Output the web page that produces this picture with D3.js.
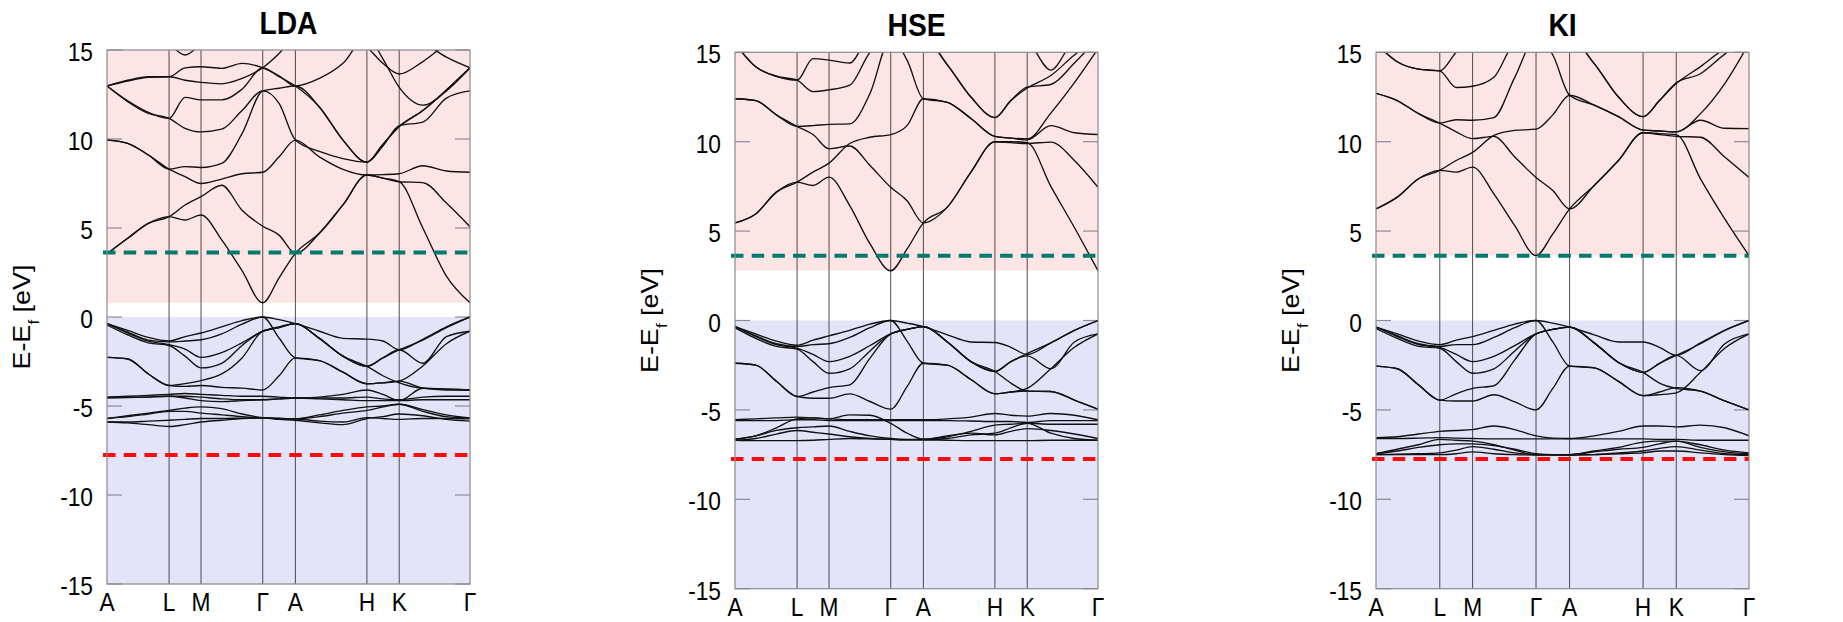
<!DOCTYPE html>
<html>
<head>
<meta charset="utf-8">
<script src="https://cdn.jsdelivr.net/npm/d3@7"></script>
<style>
  body { margin: 0; background: #fff; }
  text { font-family: "Liberation Sans", Arial, sans-serif; fill: #000; }
</style>
</head>
<body>
<svg id="chart" width="1843" height="622"></svg>
<script>
// k-path (fractional distance along the path)
const kLabels = ["A", "L", "M", "Γ", "A", "H", "K", "Γ"];
const kTicks = [0, 0.171, 0.259, 0.429, 0.519, 0.716, 0.805, 1];
const kGrid = [0, 0.057, 0.114, 0.171, 0.215, 0.259, 0.316, 0.372, 0.429, 0.474,
               0.519, 0.585, 0.65, 0.716, 0.76, 0.805, 0.87, 0.935, 1];
const yTicks = [15, 10, 5, 0, -5, -10, -15];
const titles = ["LDA", "HSE", "KI"];
const conductionBottom = [0.8, 2.8, 3.63];   // lowest edge of the pink band
const greenLevel = 3.62;
const redLevel = -7.75;

// band energies (eV) at kGrid
const ldaBands = [
  [3.55, 4.42, 5.26, 5.64, 5.45, 5.73, 4.33, 2.6, 0.8, 2.2, 3.58, 4.7, 6.3, 7.98, 7.8, 7.6, 5.0, 2.3, 0.8],
  [3.55, 4.42, 5.26, 5.64, 6.29, 6.76, 7.4, 6.0, 5.1, 4.6, 3.58, 4.7, 6.3, 7.98, 7.8, 7.6, 7.55, 6.4, 5.07],
  [9.94, 9.76, 9.1, 8.31, 7.88, 7.5, 7.75, 8.05, 8.13, 9.0, 9.94, 9.0, 8.3, 7.98, 8.0, 8.05, 8.5, 8.2, 8.13],
  [9.94, 9.76, 9.1, 8.31, 8.45, 8.4, 8.63, 10.3, 12.7, 12.85, 12.98, 11.8, 9.94, 8.7, 9.7, 10.7, 11.6, 12.75, 14.0],
  [12.98, 12.1, 11.44, 11.16, 10.6, 10.4, 10.55, 11.6, 12.7, 12.0, 9.94, 9.3, 8.9, 8.7, 9.6, 10.75, 10.95, 12.3, 12.7],
  [12.98, 12.15, 11.5, 11.16, 12.34, 12.2, 12.2, 12.8, 14.0, 13.5, 12.98, 11.8, 9.94, 8.7, 9.7, 10.7, 11.6, 12.75, 14.0],
  [12.98, 13.26, 13.46, 13.5, 13.3, 13.18, 13.1, 13.4, 14.0, 14.8, 15.8, 15.8, 15.8, 15.15, 14.25, 13.65, 14.35, 15.3, 15.8],
  [12.98, 13.3, 13.5, 13.5, 14.0, 14.06, 13.97, 14.25, 14.0, 13.55, 12.98, 13.4, 14.25, 15.8, 14.5, 12.9, 11.9, 12.7, 14.0],
  [15.8, 15.8, 15.6, 15.3, 14.72, 15.3, 15.8, 15.8, 15.8, 15.8, 15.8, 15.8, 15.8, 15.8, 15.8, 15.8, 15.4, 14.6, 14.0],
  // valence
  [-0.37, -0.75, -1.15, -1.35, -1.1, -0.9, -0.55, -0.2, 0.0, -0.15, -0.37, -0.8, -1.2, -1.24, -1.35, -1.84, -1.25, -0.55, 0.0],
  [-0.37, -0.85, -1.3, -1.4, -1.35, -1.28, -0.95, -0.4, 0.0, -1.18, -2.3, -2.45, -3.1, -3.75, -3.7, -3.6, -2.75, -1.5, -0.8],
  [-0.37, -0.9, -1.35, -1.55, -1.8, -2.27, -2.0, -1.45, -0.8, -0.55, -0.37, -1.2, -2.2, -2.77, -2.3, -1.84, -1.3, -0.6, 0.0],
  [-0.45, -1.0, -1.45, -1.6, -2.2, -2.86, -2.6, -1.6, -0.8, -0.6, -0.37, -1.2, -2.2, -2.77, -3.3, -3.7, -4.0, -4.05, -4.1],
  [-2.27, -2.36, -3.2, -3.85, -3.74, -3.57, -3.2, -2.3, -0.8, -0.6, -0.37, -1.2, -2.2, -2.77, -2.3, -1.84, -2.6, -1.1, -0.8],
  [-2.27, -2.36, -3.2, -3.85, -3.9, -3.85, -3.95, -4.0, -4.1, -3.3, -2.3, -2.45, -3.1, -3.75, -3.7, -3.6, -4.0, -4.1, -4.1],
  [-4.5, -4.45, -4.4, -4.35, -4.3, -4.35, -4.4, -4.45, -4.45, -4.5, -4.55, -4.5, -4.35, -4.1, -4.35, -4.7, -4.0, -4.05, -4.1],
  [-4.5, -4.5, -4.5, -4.45, -4.45, -4.5, -4.6, -4.65, -4.65, -4.6, -4.55, -4.55, -4.55, -4.5, -4.6, -4.65, -4.5, -4.45, -4.45],
  [-4.55, -4.52, -4.5, -4.45, -4.55, -4.7, -4.75, -4.7, -4.65, -4.6, -4.55, -4.6, -4.65, -4.7, -4.7, -4.7, -4.65, -4.65, -4.65],
  [-5.7, -5.55, -5.4, -5.25, -5.12, -5.05, -5.15, -5.45, -5.65, -5.7, -5.72, -5.5, -5.25, -5.05, -5.0, -4.9, -5.3, -5.6, -5.67],
  [-5.7, -5.6, -5.45, -5.3, -5.3, -5.4, -5.5, -5.6, -5.67, -5.7, -5.72, -5.85, -5.9, -5.65, -5.7, -5.75, -5.7, -5.7, -5.72],
  [-5.9, -5.95, -6.05, -6.15, -6.05, -5.9, -5.8, -5.7, -5.67, -5.75, -5.8, -5.95, -6.05, -5.7, -5.6, -5.45, -5.55, -5.75, -5.85],
  [-5.9, -5.9, -5.85, -5.8, -5.75, -5.7, -5.7, -5.68, -5.67, -5.7, -5.72, -5.6, -5.4, -5.25, -5.05, -4.9, -5.2, -5.5, -5.67]
];

const hseBands = [
  [5.46, 5.96, 7.18, 7.74, 7.55, 8.02, 6.43, 4.28, 2.78, 4.0, 5.46, 6.34, 8.3, 10.0, 10.0, 9.95, 7.5, 5.2, 2.78],
  [5.46, 5.96, 7.18, 7.74, 8.3, 8.8, 9.9, 10.25, 10.4, 10.9, 12.4, 12.2, 11.3, 10.3, 10.2, 10.1, 10.9, 10.5, 10.4],
  [12.4, 12.3, 11.5, 10.86, 10.4, 9.6, 9.76, 8.67, 7.45, 6.7, 5.46, 6.34, 8.3, 10.0, 9.95, 9.9, 9.98, 8.95, 7.45],
  [12.4, 12.3, 11.5, 10.86, 10.9, 10.97, 11.0, 12.7, 15.8, 14.56, 12.4, 12.2, 11.3, 10.3, 10.2, 10.15, 11.6, 13.3, 15.2],
  [15.5, 14.19, 13.66, 13.44, 12.8, 12.9, 13.16, 15.0, 15.8, 15.8, 15.8, 14.3, 12.5, 11.35, 12.3, 13.0, 13.7, 14.85, 15.8],
  [15.5, 14.19, 13.66, 13.44, 14.65, 14.56, 14.4, 15.8, 15.8, 15.8, 15.8, 14.3, 12.5, 11.35, 12.3, 13.05, 13.2, 14.4, 15.8],
  [15.8, 15.8, 15.8, 15.8, 15.8, 15.8, 15.8, 15.8, 15.8, 15.8, 15.8, 15.8, 15.8, 15.8, 15.8, 15.6, 14.0, 15.6, 15.8],
  // valence
  [-0.34, -0.75, -1.15, -1.38, -1.1, -0.86, -0.55, -0.2, 0.0, -0.15, -0.34, -0.8, -1.2, -1.23, -1.5, -1.9, -1.25, -0.55, 0.0],
  [-0.34, -0.85, -1.3, -1.45, -1.35, -1.3, -0.95, -0.4, 0.0, -1.15, -2.39, -2.5, -3.3, -4.1, -4.0, -3.8, -2.7, -1.5, -0.75],
  [-0.34, -0.9, -1.35, -1.55, -1.9, -2.3, -2.0, -1.4, -0.75, -0.5, -0.34, -1.2, -2.3, -2.85, -2.3, -1.85, -1.25, -0.55, 0.0],
  [-0.4, -1.0, -1.45, -1.6, -2.3, -2.95, -2.7, -1.7, -0.75, -0.5, -0.34, -1.2, -2.3, -2.85, -3.5, -3.95, -3.97, -4.45, -4.96],
  [-2.39, -2.5, -3.4, -4.25, -4.0, -3.75, -3.6, -2.1, -0.75, -0.5, -0.34, -1.2, -2.3, -2.85, -2.3, -1.98, -2.7, -1.2, -0.75],
  [-2.39, -2.5, -3.4, -4.25, -4.35, -4.35, -4.1, -4.53, -4.96, -3.7, -2.39, -2.5, -3.3, -4.1, -4.0, -3.95, -3.97, -4.45, -4.96],
  [-5.55, -5.5, -5.45, -5.4, -5.45, -5.5, -5.55, -5.55, -5.55, -5.55, -5.55, -5.5, -5.4, -5.2, -5.3, -5.35, -5.2, -5.3, -5.55],
  [-5.6, -5.6, -5.6, -5.55, -5.55, -5.6, -5.6, -5.6, -5.6, -5.6, -5.6, -5.6, -5.62, -5.65, -5.65, -5.7, -5.6, -5.6, -5.6],
  [-6.64, -6.45, -6.15, -6.0, -5.95, -5.9, -6.2, -6.45, -6.6, -6.65, -6.64, -6.5, -6.2, -5.85, -5.8, -5.75, -5.8, -5.8, -5.8],
  [-6.64, -6.45, -6.0, -5.5, -5.45, -5.5, -5.28, -5.3, -5.75, -6.3, -6.64, -6.45, -6.3, -6.4, -6.2, -6.05, -6.15, -6.35, -6.6],
  [-6.7, -6.72, -6.72, -6.72, -6.7, -6.65, -6.6, -6.62, -6.65, -6.68, -6.68, -6.7, -6.72, -6.72, -6.72, -6.72, -6.7, -6.7, -6.7],
  [-6.7, -6.6, -6.35, -6.15, -6.25, -6.35, -6.5, -6.6, -6.65, -6.68, -6.68, -6.6, -6.4, -6.3, -6.0, -5.75, -6.3, -6.6, -6.7]
];

const kiBands = [
  [6.24, 6.9, 7.93, 8.4, 8.3, 8.58, 7.08, 5.3, 3.63, 4.84, 6.24, 7.55, 8.95, 10.5, 10.45, 10.4, 7.92, 5.68, 3.63],
  [6.24, 6.9, 7.93, 8.4, 8.95, 9.4, 10.35, 10.63, 10.7, 11.5, 12.6, 12.04, 11.4, 10.65, 10.6, 10.55, 11.2, 10.75, 10.73],
  [12.7, 12.3, 11.57, 11.04, 10.55, 10.17, 10.3, 9.15, 8.0, 7.27, 6.24, 7.55, 8.95, 10.5, 10.4, 10.3, 10.25, 9.14, 8.0],
  [12.7, 12.3, 11.57, 11.04, 11.23, 11.2, 11.35, 13.6, 15.8, 14.85, 12.6, 12.04, 11.4, 10.65, 10.6, 10.55, 11.57, 13.25, 15.5],
  [15.5, 14.47, 14.06, 13.96, 13.03, 13.1, 13.6, 15.5, 15.8, 15.8, 15.8, 14.37, 12.5, 11.4, 12.3, 13.25, 14.2, 15.2, 15.8],
  [15.5, 14.47, 14.06, 13.96, 15.0, 15.8, 15.8, 15.8, 15.8, 15.8, 15.8, 14.37, 12.5, 11.4, 12.3, 13.3, 13.8, 14.9, 15.8],
  // valence
  [-0.37, -0.75, -1.15, -1.35, -1.1, -0.9, -0.55, -0.2, 0.0, -0.15, -0.37, -0.8, -1.2, -1.2, -1.5, -1.95, -1.25, -0.55, 0.0],
  [-0.37, -0.85, -1.3, -1.45, -1.35, -1.35, -0.95, -0.4, 0.0, -1.2, -2.55, -2.65, -3.4, -4.2, -4.15, -4.05, -2.9, -1.55, -0.75],
  [-0.37, -0.9, -1.35, -1.5, -1.9, -2.3, -2.0, -1.4, -0.75, -0.5, -0.37, -1.25, -2.35, -2.9, -2.4, -1.95, -1.3, -0.55, 0.0],
  [-0.45, -1.0, -1.45, -1.55, -2.3, -2.95, -2.7, -1.7, -0.75, -0.5, -0.37, -1.25, -2.35, -2.9, -3.5, -3.8, -3.95, -4.5, -5.0],
  [-2.55, -2.7, -3.6, -4.45, -4.1, -3.8, -3.65, -2.2, -0.75, -0.5, -0.37, -1.25, -2.35, -2.9, -2.4, -1.95, -2.8, -1.3, -0.75],
  [-2.55, -2.7, -3.6, -4.45, -4.5, -4.5, -4.15, -4.55, -5.0, -3.8, -2.55, -2.65, -3.4, -4.2, -4.0, -3.75, -3.95, -4.5, -5.0],
  [-6.55, -6.5, -6.35, -6.2, -6.15, -6.1, -5.9, -6.1, -6.45, -6.58, -6.6, -6.45, -6.2, -5.9, -5.9, -5.95, -5.85, -6.0, -6.45],
  [-6.6, -6.6, -6.58, -6.55, -6.58, -6.6, -6.62, -6.62, -6.62, -6.62, -6.62, -6.62, -6.62, -6.62, -6.65, -6.65, -6.7, -6.7, -6.7],
  [-7.45, -7.2, -6.95, -6.65, -6.7, -6.75, -6.95, -7.25, -7.5, -7.5, -7.5, -7.3, -7.1, -6.8, -6.75, -6.75, -7.1, -7.35, -7.45],
  [-7.45, -7.3, -7.1, -6.95, -6.9, -6.9, -7.0, -7.2, -7.45, -7.5, -7.5, -7.35, -7.2, -7.1, -6.9, -6.75, -6.95, -7.25, -7.4],
  [-7.5, -7.48, -7.45, -7.4, -7.25, -7.05, -7.2, -7.4, -7.5, -7.5, -7.52, -7.5, -7.4, -7.3, -7.15, -7.05, -7.25, -7.45, -7.5],
  [-7.5, -7.5, -7.5, -7.5, -7.45, -7.35, -7.45, -7.5, -7.52, -7.52, -7.52, -7.5, -7.45, -7.4, -7.3, -7.3, -7.4, -7.5, -7.55]
];

const allBands = [ldaBands, hseBands, kiBands];

const PINK = "#fde4e5";
const BLUE = "#e3e3fa";
const GREEN = "#007a6c";
const RED = "#ff0a0a";
const SQUEEZE = 0.91;   // the original figure text is slightly narrowed

const panels = [
  { x0: 107, x1: 470, y0: 50, y1: 584 },
  { x0: 735, x1: 1098, y0: 52.3, y1: 588.7 },
  { x0: 1376, x1: 1749, y0: 52.3, y1: 588.7 }
];

const svg = d3.select("#chart");

function squeezedText(g, x, y, str, size, weight, anchor) {
  return g.append("text")
    .attr("transform", `translate(${x},${y}) scale(${SQUEEZE},1)`)
    .attr("text-anchor", anchor)
    .style("font-size", size + "px")
    .style("font-weight", weight)
    .text(str);
}

panels.forEach((p, i) => {
  const x = d3.scaleLinear().domain([0, 1]).range([p.x0, p.x1]);
  const y = d3.scaleLinear().domain([-15, 15]).range([p.y1, p.y0]);
  const g = svg.append("g");

  g.append("clipPath").attr("id", "clip" + i)
    .append("rect")
    .attr("x", p.x0).attr("y", p.y0)
    .attr("width", p.x1 - p.x0).attr("height", p.y1 - p.y0);

  // shaded regions
  g.append("rect")
    .attr("x", x(0)).attr("width", x(1) - x(0))
    .attr("y", y(15)).attr("height", y(conductionBottom[i]) - y(15))
    .attr("fill", PINK);
  g.append("rect")
    .attr("x", x(0)).attr("width", x(1) - x(0))
    .attr("y", y(0)).attr("height", y(-15) - y(0))
    .attr("fill", BLUE);

  // high-symmetry lines
  g.selectAll(".kline").data(kTicks.slice(1, -1)).join("line")
    .attr("x1", d => x(d)).attr("x2", d => x(d))
    .attr("y1", y(15)).attr("y2", y(-15))
    .attr("stroke", "#3a3a3a").attr("stroke-width", 0.9);

  // y ticks both sides
  yTicks.forEach(t => {
    g.append("line").attr("x1", x(0)).attr("x2", x(0) + 15)
      .attr("y1", y(t)).attr("y2", y(t))
      .attr("stroke", "#8a8a9a").attr("stroke-width", 1.2);
    g.append("line").attr("x1", x(1) - 15).attr("x2", x(1))
      .attr("y1", y(t)).attr("y2", y(t))
      .attr("stroke", "#8a8a9a").attr("stroke-width", 1.2);
    squeezedText(g, x(0) - 14, y(t) + 11, String(t), 25, "normal", "end");
  });

  // bands
  const line = d3.line()
    .x((d, j) => x(kGrid[j]))
    .y(d => y(d))
    .curve(d3.curveMonotoneX);
  g.append("g").attr("clip-path", `url(#clip${i})`)
    .selectAll("path").data(allBands[i]).join("path")
    .attr("d", line)
    .attr("fill", "none")
    .attr("stroke", "#111")
    .attr("stroke-width", 1.35);

  // dashed reference levels
  [[greenLevel, GREEN], [redLevel, RED]].forEach(([lv, c]) => {
    g.append("line")
      .attr("x1", x(0) - 4).attr("x2", x(1))
      .attr("y1", y(lv)).attr("y2", y(lv))
      .attr("stroke", c).attr("stroke-width", 4)
      .attr("stroke-dasharray", "12.5,8.2");
  });

  // frame
  g.append("rect")
    .attr("x", x(0)).attr("y", y(15))
    .attr("width", x(1) - x(0)).attr("height", y(-15) - y(15))
    .attr("fill", "none").attr("stroke", "#8a8a8a").attr("stroke-width", 1.2);

  // k labels
  kTicks.forEach((k, j) => {
    squeezedText(g, x(k), y(-15) + 27, kLabels[j], 25, "normal", "middle");
  });

  // title
  squeezedText(g, (x(0) + x(1)) / 2, y(15) - 16, titles[i], 31, "bold", "middle");

  // y label
  const lbl = g.append("text")
    .attr("transform", `translate(${x(0) - 77},${(y(15) + y(-15)) / 2}) scale(${SQUEEZE},1) rotate(-90)`)
    .attr("text-anchor", "middle")
    .style("font-size", "27px");
  lbl.append("tspan").text("E-E");
  lbl.append("tspan").attr("baseline-shift", "sub").style("font-size", "17px").text("f");
  lbl.append("tspan").text(" [eV]");
});
</script>
</body>
</html>
